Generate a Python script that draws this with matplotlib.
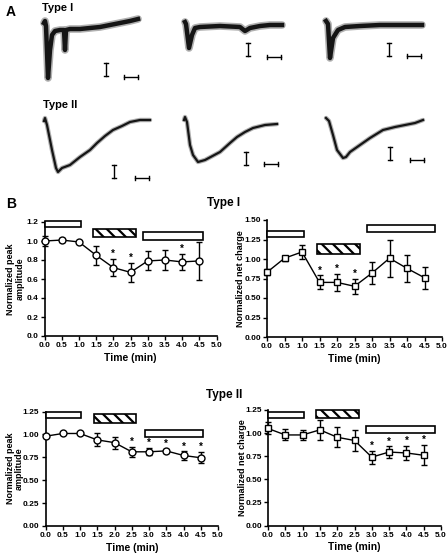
import matplotlib
matplotlib.use('Agg')
import matplotlib.pyplot as plt
from matplotlib.patches import Rectangle
import numpy as np

plt.rcParams['font.family'] = ['Liberation Sans', 'DejaVu Sans']
plt.rcParams['font.weight'] = 'bold'
plt.rcParams['hatch.linewidth'] = 1.6

W, H = 448, 556
fig = plt.figure(figsize=(W / 100, H / 100), dpi=100)

# ---------------- Panel B data ----------------
time_min = [0.0, 0.5, 1.0, 1.5, 2.0, 2.5, 3.0, 3.5, 4.0, 4.5]

typeI_peak = [1.00, 1.01, 0.99, 0.85, 0.72, 0.67, 0.79, 0.80, 0.78, 0.79]
typeI_peak_err = [0.05, 0.02, 0.0, 0.10, 0.09, 0.10, 0.10, 0.105, 0.08, 0.20]
typeI_peak_sig = [2.0, 2.5, 4.0]

typeI_charge = [0.83, 1.01, 1.09, 0.70, 0.70, 0.65, 0.82, 1.01, 0.88, 0.76]
typeI_charge_err = [0.04, 0.03, 0.09, 0.09, 0.11, 0.10, 0.14, 0.24, 0.17, 0.14]
typeI_charge_sig = [1.5, 2.0, 2.5]

typeII_peak = [0.98, 1.01, 1.01, 0.94, 0.91, 0.81, 0.81, 0.82, 0.77, 0.745]
typeII_peak_err = [0.0, 0.0, 0.0, 0.07, 0.065, 0.055, 0.04, 0.025, 0.045, 0.06]
typeII_peak_sig = [2.5, 3.0, 3.5, 4.0, 4.5]

typeII_charge = [1.05, 0.98, 0.98, 1.035, 0.955, 0.92, 0.74, 0.795, 0.785, 0.76]
typeII_charge_err = [0.065, 0.06, 0.05, 0.11, 0.11, 0.11, 0.07, 0.06, 0.075, 0.11]
typeII_charge_sig = [3.0, 3.5, 4.0, 4.5]

# application bars: (start, end, bottom, top, hatched)
bars_I_peak = [(0.0, 1.07, 1.145, 1.21, False), (1.41, 2.67, 1.04, 1.125, True),
               (2.86, 4.62, 1.01, 1.10, False)]
bars_I_charge = [(0.0, 1.07, 1.28, 1.36, False), (1.43, 2.67, 1.07, 1.19, True),
                 (2.86, 4.81, 1.34, 1.44, False)]
bars_II_peak = [(0.0, 1.04, 1.18, 1.25, False), (1.40, 2.63, 1.12, 1.225, True),
                (2.87, 4.57, 0.97, 1.05, False)]
bars_II_charge = [(0.0, 1.04, 1.16, 1.23, False), (1.40, 2.62, 1.16, 1.25, True),
                  (2.84, 4.82, 1.005, 1.08, False)]

# ---------------- Panel A traces (time in ms, current in arbitrary units) ----------------
trI1_t = [0, 1, 2, 4, 6, 8, 11, 16, 20, 21, 22, 26, 36, 46, 56, 66, 76, 86, 94]
trI1_v = [0, 2, -3, -55, -27, -12, -8, -7, -7, -27, -7, -6, -6, -5, -4, -2, 0, 2, 4]
trI2_t = [0, 1, 4, 7, 10, 15, 35, 55, 60, 65, 75, 85, 97]
trI2_v = [0, -2, -26, -13, -6, -5, -4, -5, -9, -6, -4, -3, -3]
trI3_t = [0, 2, 4, 7, 12, 19, 34, 54, 74, 96]
trI3_v = [0, -3, -37, -17, -9, -6, -5, -4, -4, -4]
trII1_t = [0, 1, 3, 8, 12, 14, 18, 26, 36, 46, 53, 61, 69, 78, 86, 96, 106]
trII1_v = [0, 3, -4, -29, -47, -51, -47, -44, -36, -29, -22, -15, -9, -5, -1, 1, 1]
trII2_t = [0, 1, 3, 6, 9, 14, 21, 36, 46, 53, 61, 69, 81, 93]
trII2_v = [0, 3, -2, -25, -35, -42, -40, -32, -23, -17, -12, -8, -5, -4]
trII3_t = [0, 3, 7, 11, 17, 20, 24, 34, 44, 57, 69, 79, 89, 97]
trII3_v = [0, -3, -17, -32, -40, -39, -34, -27, -20, -12, -9, -7, -5, -2]

# layout (pixels)
sweep_origin = [(44, 23), (185, 22), (326, 21), (44, 121), (184, 120), (326, 118)]
vbar_pos = [(106, 63), (248, 43), (389, 43), (114, 165), (246, 152), (390, 147)]
hbar_pos = [(124, 77), (267, 57), (407, 56), (135, 178), (264, 164), (410, 160)]

axA = fig.add_axes([0, 0, 1, 1])
axA.set_xlim(0, W)
axA.set_ylim(H, 0)
axA.axis('off')

traces = [(trI1_t, trI1_v), (trI2_t, trI2_v), (trI3_t, trI3_v),
          (trII1_t, trII1_v), (trII2_t, trII2_v), (trII3_t, trII3_v)]
for k, ((t, v), (ox, oy)) in enumerate(zip(traces, sweep_origin)):
    xs = np.array(t) + ox
    ys = oy - np.array(v)
    outer = 5.5 if k < 3 else 3.2
    inner = 3.2 if k < 3 else 1.6
    axA.plot(xs, ys, color='#b0b0b0', lw=outer, solid_joinstyle='round',
             solid_capstyle='round')
    axA.plot(xs, ys, color='#151515', lw=inner, solid_joinstyle='round')
for (x, y) in vbar_pos:
    axA.plot([x, x], [y, y + 13], color='black', lw=1)
    axA.plot([x - 2, x + 2], [y, y], color='black', lw=1)
    axA.plot([x - 2, x + 2], [y + 13, y + 13], color='black', lw=1)
for (x, y) in hbar_pos:
    axA.plot([x, x + 14], [y, y], color='black', lw=1)
    axA.plot([x, x], [y - 2, y + 2], color='black', lw=1)
    axA.plot([x + 14, x + 14], [y - 2, y + 2], color='black', lw=1)

fig.text(6 / W, 1 - 12 / H, 'A', fontsize=10, weight='bold', ha='left', va='center')
fig.text(42 / W, 1 - 8 / H, 'Type I', fontsize=8, weight='bold', ha='left', va='center')
fig.text(43 / W, 1 - 105 / H, 'Type II', fontsize=8, weight='bold', ha='left', va='center')

fig.text(6 / W, 1 - 204 / H, 'B', fontsize=10, weight='bold', ha='left', va='center')
fig.text(224 / W, 1 - 203 / H, 'Type I', fontsize=8.5, weight='bold', ha='center', va='center')
fig.text(224 / W, 1 - 395 / H, 'Type II', fontsize=8.5, weight='bold', ha='center', va='center')


def px_rect(l, r, t, b):
    return [l / W, 1 - b / H, (r - l) / W, (b - t) / H]


def panel(rect, y, err, sig, marker, ms, ymax, ystep, yfmt, ylabel, bars, lab_x):
    ax = fig.add_axes(rect)
    x = np.array(time_min)
    y = np.array(y)
    e = np.array(err)
    m = e > 0
    ax.errorbar(x[m], y[m], yerr=e[m], fmt='none', ecolor='black', elinewidth=1,
                capsize=2.5, capthick=1, zorder=2, clip_on=False)
    ax.plot(x, y, '-', color='black', lw=1, marker=marker, ms=ms, mfc='white',
            mec='black', mew=1, zorder=3, clip_on=False)
    for s in sig:
        i = time_min.index(s)
        ax.annotate('*', (s, y[i] + e[i]), xytext=(0, 0), textcoords='offset points',
                    ha='center', va='bottom', fontsize=7, weight='bold')
    for (x0, x1, b, t, hatched) in bars:
        ax.add_patch(Rectangle((x0, b), x1 - x0, t - b, facecolor='white',
                               edgecolor='black', lw=1.2,
                               hatch='\\\\\\' if hatched else None,
                               clip_on=False, zorder=4))
    ax.set_xlim(0, 5)
    ax.set_ylim(0, ymax)
    ax.set_xticks(np.arange(0, 5.01, 0.5))
    ax.set_xticklabels(['%.1f' % v for v in np.arange(0, 5.01, 0.5)])
    yt = np.arange(0, ymax + 1e-6, ystep)
    ax.set_yticks(yt)
    ax.set_yticklabels([yfmt % v for v in yt])
    for sp in ['top', 'right']:
        ax.spines[sp].set_visible(False)
    for sp in ['left', 'bottom']:
        ax.spines[sp].set_linewidth(1.2)
    ax.tick_params(direction='out', length=3, width=1, labelsize=6, pad=1.5)
    for lbl in ax.get_xticklabels() + ax.get_yticklabels():
        lbl.set_fontweight('bold')
    ax.set_xlabel('Time (min)', fontsize=7.5, weight='bold', va='center')
    ax.xaxis.set_label_coords(0.5, -0.19)
    ax.set_ylabel(ylabel, fontsize=6.5, weight='bold', linespacing=1.0, va='center')
    ax.yaxis.set_label_coords(lab_x, 0.5)
    return ax


panel(px_rect(44.5, 216.5, 222, 336), typeI_peak, typeI_peak_err, typeI_peak_sig, 'o', 5,
      1.2, 0.2, '%.1f', 'Normalized peak\namplitude', bars_I_peak, -0.17)
panel(px_rect(267, 442, 220, 337), typeI_charge, typeI_charge_err, typeI_charge_sig, 's', 4.5,
      1.5, 0.25, '%.2f', 'Normalized net charge', bars_I_charge, -0.149)
panel(px_rect(45.5, 218, 411.5, 526), typeII_peak, typeII_peak_err, typeII_peak_sig, 'o', 5,
      1.25, 0.25, '%.2f', 'Normalized peak\namplitude', bars_II_peak, -0.177)
panel(px_rect(268, 441, 410, 525.5), typeII_charge, typeII_charge_err, typeII_charge_sig, 's', 4.5,
      1.25, 0.25, '%.2f', 'Normalized net charge', bars_II_charge, -0.149)

fig.savefig('out.png', dpi=100)
